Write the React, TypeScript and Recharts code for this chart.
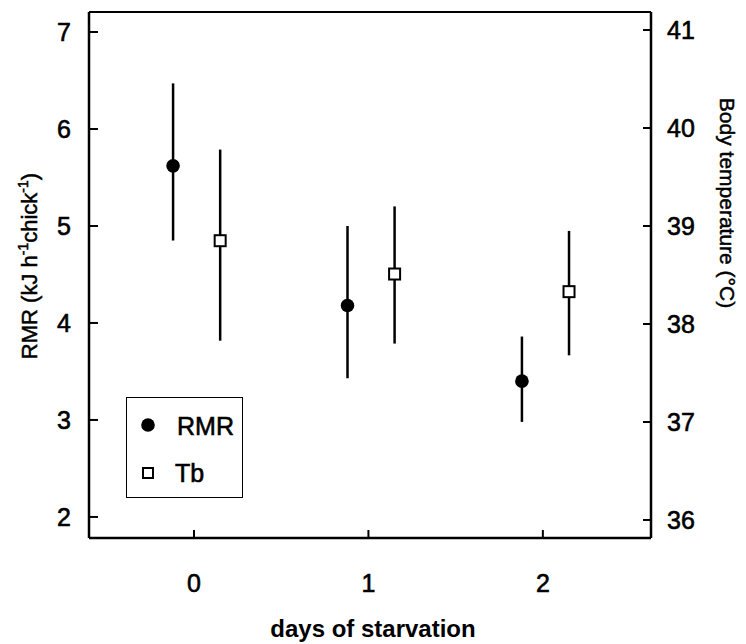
import React from 'react';
import { ComposedChart, Scatter, XAxis, YAxis, ErrorBar, ReferenceLine } from 'recharts';

// ---- data ----
const days = [0, 1, 2];
const rmrMean = [5.62, 4.18, 3.4];
const rmrLow = [4.85, 3.43, 2.98];
const rmrHigh = [6.47, 5.0, 3.86];
const tbMean = [38.85, 38.51, 38.33];
const tbLow = [37.83, 37.8, 37.68];
const tbHigh = [39.78, 39.2, 38.95];
const xTicks = [0, 1, 2];
const rmrTicks = [2, 3, 4, 5, 6, 7];
const tbTicks = [36, 37, 38, 39, 40, 41];
const seriesNames = ['RMR', 'Tb'];
const xTitle = 'days of starvation';
const rightTitle = 'Body temperature (°C)';

const RMR_SHIFT = -0.12;
const TB_SHIFT = 0.15;
const RMR_DOMAIN: [number, number] = [1.783, 7.206];
const TB_DOMAIN: [number, number] = [35.816, 41.184];
const X_DOMAIN: [number, number] = [-0.602, 2.62];

const rmrData = days.map((d, i) => ({
  x: d + RMR_SHIFT,
  y: rmrMean[i],
  err: [rmrMean[i] - rmrLow[i], rmrHigh[i] - rmrMean[i]],
}));
const tbData = days.map((d, i) => ({
  x: d + TB_SHIFT,
  y: tbMean[i],
  err: [tbMean[i] - tbLow[i], tbHigh[i] - tbMean[i]],
}));

const FONT = "'Liberation Sans', Arial, Helvetica, sans-serif";
const INK = '#000';
const THICK = { stroke: INK, strokeWidth: 0.6 };

const LeftTick = (p: any) => (
  <g>
    <line x1={p.x} y1={p.y} x2={p.x + 9} y2={p.y} stroke={INK} strokeWidth={2} />
    <text x={p.x - 18} y={p.y + 9} textAnchor="end" fontSize={25} fontFamily={FONT} fill={INK} {...THICK}>
      {p.payload.value}
    </text>
  </g>
);
const RightTick = (p: any) => (
  <g>
    <line x1={p.x} y1={p.y} x2={p.x - 8} y2={p.y} stroke={INK} strokeWidth={2} />
    <text x={p.x + 16} y={p.y + 9} textAnchor="start" fontSize={25} fontFamily={FONT} fill={INK} {...THICK}>
      {p.payload.value}
    </text>
  </g>
);
const BottomTick = (p: any) => (
  <g>
    <line x1={p.x} y1={p.y} x2={p.x} y2={p.y - 8} stroke={INK} strokeWidth={2} />
    <text x={p.x} y={p.y + 54} textAnchor="middle" fontSize={25} fontFamily={FONT} fill={INK} {...THICK}>
      {p.payload.value}
    </text>
  </g>
);

const circleShape = (p: any) => <circle cx={p.cx} cy={p.cy} r={6.8} fill={INK} />;
const squareShape = (p: any) => (
  <rect x={p.cx - 5.5} y={p.cy - 5.5} width={11} height={11} fill="#fff" stroke={INK} strokeWidth={2} />
);

export default function App() {
  return (
    <div style={{ position: 'absolute', left: 0, top: 0, width: 746, height: 644, background: '#fff' }}>
      <ComposedChart width={746} height={644} margin={{ top: 12, right: 0, bottom: 0, left: 0 }}>
        <XAxis
          xAxisId="b"
          type="number"
          dataKey="x"
          domain={X_DOMAIN}
          allowDataOverflow
          ticks={xTicks}
          interval={0}
          height={106}
          tickSize={0}
          tickMargin={0}
          tickLine={false}
          axisLine={{ stroke: INK, strokeWidth: 2.5 }}
          tick={<BottomTick />}
          label={{
            content: (props: any) => {
              const vb = props.viewBox;
              return (
                <text
                  x={vb.x + vb.width / 2 + 3}
                  y={637}
                  textAnchor="middle"
                  fontSize={24}
                  fontWeight="bold"
                  fontFamily={FONT}
                  fill={INK}
                >
                  {xTitle}
                </text>
              );
            },
          }}
        />
        <YAxis
          yAxisId="rmr"
          type="number"
          dataKey="y"
          domain={RMR_DOMAIN}
          allowDataOverflow
          ticks={rmrTicks}
          interval={0}
          width={89}
          tickSize={0}
          tickMargin={0}
          tickLine={false}
          axisLine={{ stroke: INK, strokeWidth: 2.5 }}
          tick={<LeftTick />}
          label={{
            content: () => (
              <text
                transform="translate(37,266) rotate(-90)"
                textAnchor="middle"
                fontSize={22}
                fontFamily={FONT}
                fill={INK}
                stroke={INK}
                strokeWidth={0.5}
              >
                <tspan>RMR (kJ h</tspan>
                <tspan dy={-9} fontSize={14}>-1</tspan>
                <tspan dy={9}>chick</tspan>
                <tspan dy={-9} fontSize={14}>-1</tspan>
                <tspan dy={9}>)</tspan>
              </text>
            ),
          }}
        />
        <YAxis
          yAxisId="tb"
          orientation="right"
          type="number"
          dataKey="y"
          domain={TB_DOMAIN}
          allowDataOverflow
          ticks={tbTicks}
          interval={0}
          width={95}
          tickSize={0}
          tickMargin={0}
          tickLine={false}
          axisLine={{ stroke: INK, strokeWidth: 2.5 }}
          tick={<RightTick />}
          label={{
            content: () => (
              <text
                transform="translate(720,203) rotate(90)"
                textAnchor="middle"
                fontSize={21}
                fontFamily={FONT}
                fill={INK}
                stroke={INK}
                strokeWidth={0.5}
              >
                {rightTitle}
              </text>
            ),
          }}
        />
        <ReferenceLine
          xAxisId="b"
          yAxisId="rmr"
          y={RMR_DOMAIN[1]}
          stroke={INK}
          strokeWidth={2}
          ifOverflow="visible"
        />
        <Scatter
          name={seriesNames[0]}
          data={rmrData}
          dataKey="y"
          xAxisId="b"
          yAxisId="rmr"
          shape={circleShape}
          isAnimationActive={false}
        >
          <ErrorBar dataKey="err" direction="y" width={0} stroke={INK} strokeWidth={2.5} isAnimationActive={false} />
        </Scatter>
        <Scatter
          name={seriesNames[1]}
          data={tbData}
          dataKey="y"
          xAxisId="b"
          yAxisId="tb"
          shape={squareShape}
          isAnimationActive={false}
        >
          <ErrorBar dataKey="err" direction="y" width={0} stroke={INK} strokeWidth={2.5} isAnimationActive={false} />
        </Scatter>
      </ComposedChart>
      <div
        style={{
          position: 'absolute',
          left: 126,
          top: 397,
          width: 115,
          height: 99,
          border: '1.5px solid #000',
          fontFamily: FONT,
        }}
      >
        <svg width={115} height={99} style={{ position: 'absolute', left: 0, top: 0 }}>
          <circle cx={21} cy={27} r={6.8} fill={INK} />
          <text x={50} y={37} fontSize={25} fontFamily={FONT} fill={INK} {...THICK}>{seriesNames[0]}</text>
          <rect x={16} y={70} width={10} height={10} fill="#fff" stroke={INK} strokeWidth={2} />
          <text x={48} y={84} fontSize={25} fontFamily={FONT} fill={INK} {...THICK}>{seriesNames[1]}</text>
        </svg>
      </div>
    </div>
  );
}
